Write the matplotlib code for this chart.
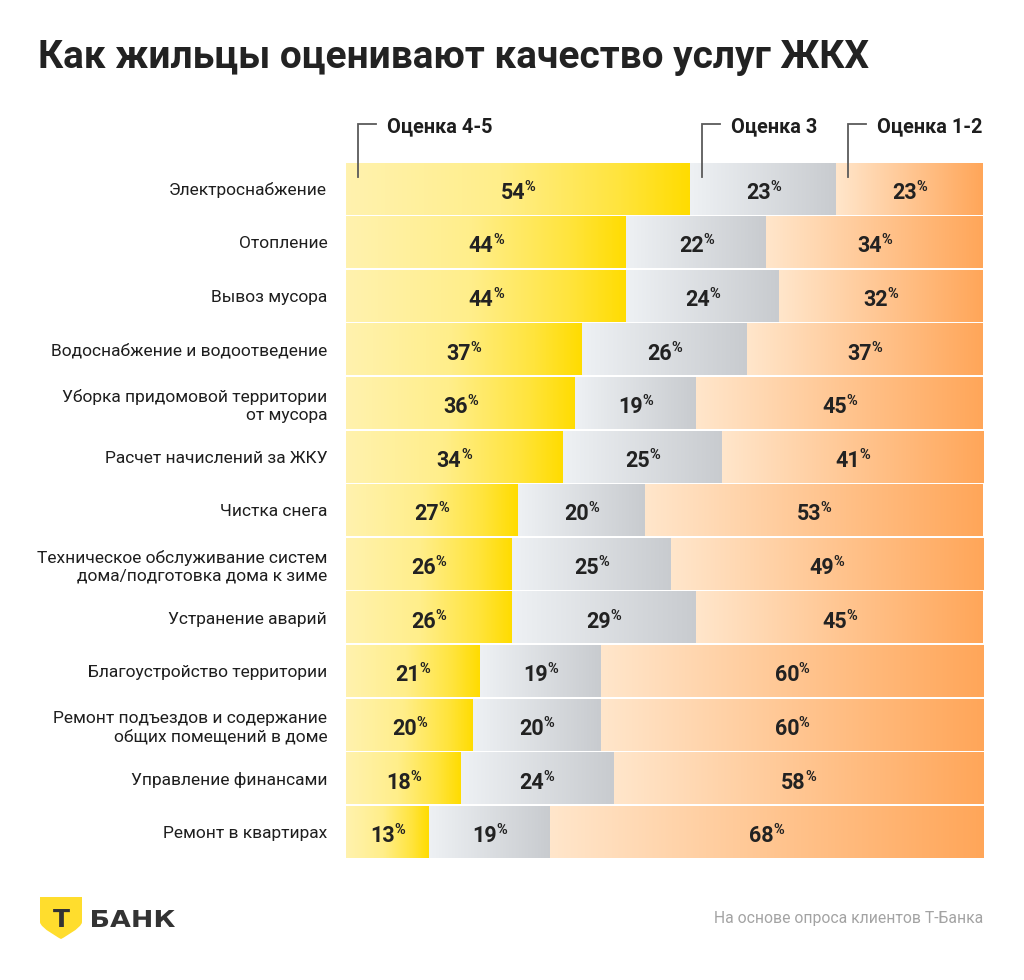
import matplotlib
matplotlib.use('Agg')
import matplotlib.pyplot as plt
import numpy as np
from matplotlib.colors import LinearSegmentedColormap
from matplotlib import font_manager
from matplotlib.path import Path
from matplotlib.patches import PathPatch
from matplotlib.textpath import TextPath
from matplotlib.font_manager import FontProperties
from matplotlib.transforms import Affine2D

names = {f.name for f in font_manager.fontManager.ttflist}
NARROW = 'Liberation Sans Narrow' if 'Liberation Sans Narrow' in names else 'Roboto'
MAIN = 'Roboto' if 'Roboto' in names else 'DejaVu Sans'

# ---------------- data ----------------
categories = [
    'Электроснабжение',
    'Отопление',
    'Вывоз мусора',
    'Водоснабжение и водоотведение',
    'Уборка придомовой территории\nот мусора',
    'Расчет начислений за ЖКУ',
    'Чистка снега',
    'Техническое обслуживание систем\nдома/подготовка дома к зиме',
    'Устранение аварий',
    'Благоустройство территории',
    'Ремонт подъездов и содержание\nобщих помещений в доме',
    'Управление финансами',
    'Ремонт в квартирах',
]
score_4_5 = [54, 44, 44, 37, 36, 34, 27, 26, 26, 21, 20, 18, 13]
score_3 = [23, 22, 24, 26, 19, 25, 20, 25, 29, 19, 20, 24, 19]
score_1_2 = [23, 34, 32, 37, 45, 41, 53, 49, 45, 60, 60, 58, 68]
series_names = ['Оценка 4-5', 'Оценка 3', 'Оценка 1-2']

title = 'Как жильцы оценивают качество услуг ЖКХ'
footnote = 'На основе опроса клиентов Т-Банка'
brand = 'БАНК'

# ---------------- styling ----------------
W, H = 1024, 980
fig = plt.figure(figsize=(W / 100, H / 100), dpi=100)
fig.patch.set_facecolor('white')
renderer = fig.canvas.get_renderer()

ax_left, ax_right, ax_top, ax_bottom = 346, 983, 162, 859
ax = fig.add_axes([ax_left / W, (H - ax_bottom) / H,
                   (ax_right - ax_left) / W, (ax_bottom - ax_top) / H])
n = len(categories)
px_x = (ax_right - ax_left) / 100.0      # pixels per data unit (x)
px_y = (ax_bottom - ax_top) / n          # pixels per row

cmaps = [
    LinearSegmentedColormap.from_list('y', [(0, '#FFF2AE'), (0.45, '#FFEE8A'), (0.8, '#FFE43C'), (1, '#FFDC00')]),
    LinearSegmentedColormap.from_list('g', [(0, '#EEF1F4'), (1, '#C8CBCF')]),
    LinearSegmentedColormap.from_list('o', [(0, '#FFE6CB'), (1, '#FFA659')]),
]
grad = np.linspace(0, 1, 256).reshape(1, -1)
bar_h = 0.96

num_prop = FontProperties(family=MAIN, weight='bold', size=15.5)
pct_prop = FontProperties(family=MAIN, weight='bold', size=10.5)


def text_w(s, prop):
    w, h, d = renderer.get_text_width_height_descent(s, prop, ismath=False)
    return w


pct_w = text_w('%', pct_prop)
gap = -0.5
base_off = -10.0      # digit baseline below bar centre (pixels)
pct_base_off = base_off + 8.0

series = [score_4_5, score_3, score_1_2]
for i in range(n):
    left = 0
    for s, vals in enumerate(series):
        w = vals[i]
        ax.imshow(grad, cmap=cmaps[s], extent=[left, left + w, i + bar_h / 2, i - bar_h / 2],
                  aspect='auto', interpolation='bilinear', zorder=1)
        label = str(w)
        nw = text_w(label, num_prop)
        total = nw + gap + pct_w
        ax.annotate(label, xy=(left + w / 2, i), xytext=(-total / 2, base_off),
                    textcoords='offset pixels', ha='left', va='baseline',
                    fontproperties=num_prop, color='#222222', zorder=3)
        ax.annotate('%', xy=(left + w / 2, i), xytext=(-total / 2 + nw + gap, pct_base_off),
                    textcoords='offset pixels', ha='left', va='baseline',
                    fontproperties=pct_prop, color='#222222', zorder=3)
        left += w

ax.set_xlim(0, 100)
ax.set_ylim(n - 0.5, -0.5)
ax.set_yticks(range(n))
ax.set_yticklabels(categories, fontsize=12.5, family=MAIN, color='#1E1E1E', linespacing=1.2)
ax.tick_params(axis='y', length=0, pad=13.5)
ax.set_xticks([])
for sp in ax.spines.values():
    sp.set_visible(False)

# legend leaders on first row
starts = [0, score_4_5[0], score_4_5[0] + score_3[0]]
y_top = -0.5 - (ax_top - 124) / px_y
y_bot = -0.5 + (177 - ax_top) / px_y
y_txt = -0.5 - (ax_top - 132) / px_y
for s, name in enumerate(series_names):
    lx = starts[s] + 12 / px_x
    ax.plot([lx + 18 / px_x, lx, lx], [y_top, y_top, y_bot], color='#5A5A5A', lw=1.3,
            clip_on=False, zorder=4, solid_joinstyle='miter')
    ax.text(lx + 29 / px_x, y_txt, name, ha='left', va='baseline', fontsize=14.3,
            fontweight='bold', color='#1E1E1E', family=MAIN, clip_on=False)

# overlay axes in pixel coordinates for title, logo and footnote
ov = fig.add_axes([0, 0, 1, 1], zorder=-1)
ov.set_xlim(0, W)
ov.set_ylim(H, 0)
ov.axis('off')
ov.text(38, 68, title, ha='left', va='baseline', fontsize=28, fontweight='bold',
        family=NARROW, color='#222222')

verts = [(40, 897), (82, 897), (82, 922), (82, 928), (61, 939), (61, 939),
         (61, 939), (40, 928), (40, 922), (40, 897)]
codes = [Path.MOVETO, Path.LINETO, Path.LINETO, Path.CURVE4, Path.CURVE4, Path.CURVE4,
         Path.CURVE4, Path.CURVE4, Path.CURVE4, Path.CLOSEPOLY]
ov.add_patch(PathPatch(Path(verts, codes), facecolor='#FFDD2D', edgecolor='none'))
ov.text(61, 927, 'Т', ha='center', va='baseline', fontsize=18, fontweight='bold',
        family='DejaVu Sans', color='#333333')

# brand word, stretched horizontally to the reference width
tp = TextPath((0, 0), brand, size=23, prop=FontProperties(family='DejaVu Sans', weight='bold'))
bb = tp.get_extents()
sx = (175 - 92) / bb.width
sy = 17.0 / bb.height
tp2 = Affine2D().translate(-bb.x0, 0).scale(sx, -sy).translate(92, 927).transform_path(tp)
ov.add_patch(PathPatch(tp2, facecolor='#333333', edgecolor='none'))

ov.text(983, 923, footnote, ha='right', va='baseline', fontsize=11.3, family=NARROW,
        color='#A3A3A3')

fig.savefig('out.png', dpi=100, facecolor='white')
